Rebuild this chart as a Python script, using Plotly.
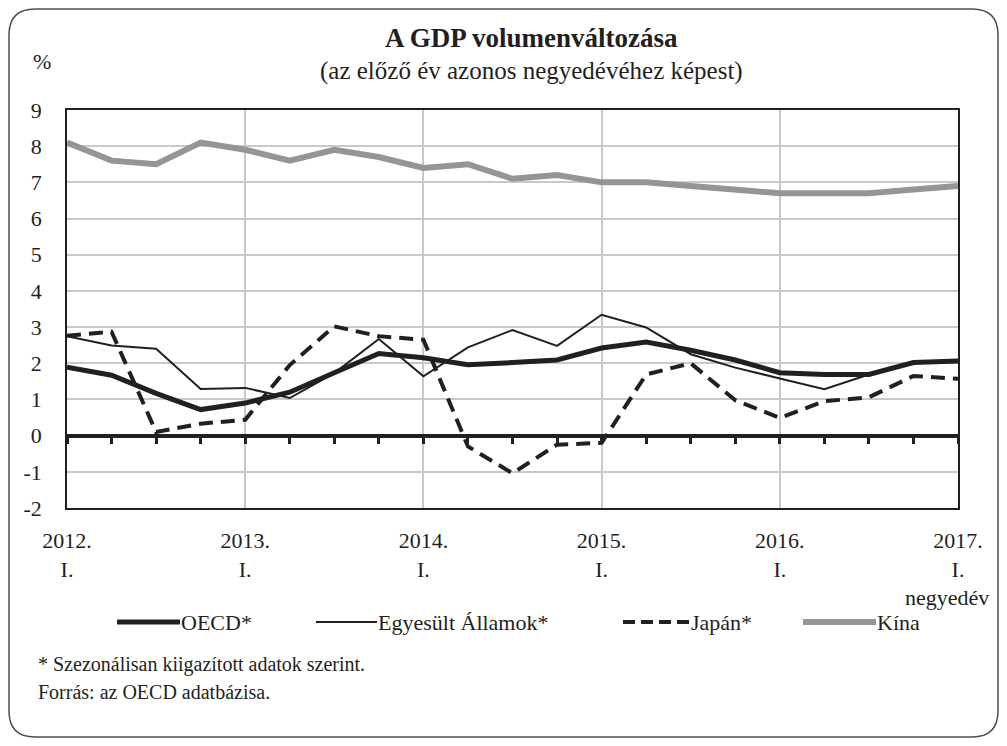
import plotly.graph_objects as go

# quarterly GDP volume change, % (same quarter of previous year)
quarters = [f"{2012 + i // 4}. {['I.', 'II.', 'III.', 'IV.'][i % 4]}" for i in range(21)]
year_ticks = ["2012.<br>I.", "2013.<br>I.", "2014.<br>I.", "2015.<br>I.", "2016.<br>I.", "2017.<br>I."]
y_ticks = list(range(-2, 10))
y_labels = [str(v) for v in y_ticks]

oecd = [1.89, 1.67, 1.17, 0.72, 0.90, 1.20, 1.74, 2.27, 2.15, 1.96, 2.02,
        2.09, 2.42, 2.59, 2.36, 2.09, 1.74, 1.69, 1.69, 2.02, 2.06]
usa = [2.75, 2.49, 2.40, 1.29, 1.32, 1.04, 1.73, 2.67, 1.64, 2.44, 2.92,
       2.48, 3.34, 2.99, 2.25, 1.88, 1.58, 1.28, 1.69, 2.00, 2.06]
japan = [2.76, 2.87, 0.10, 0.33, 0.44, 1.95, 3.02, 2.75, 2.65, -0.30, -1.04,
         -0.25, -0.20, 1.69, 2.00, 0.98, 0.49, 0.95, 1.06, 1.65, 1.57]
china = [8.1, 7.6, 7.5, 8.1, 7.9, 7.6, 7.9, 7.7, 7.4, 7.5, 7.1,
         7.2, 7.0, 7.0, 6.9, 6.8, 6.7, 6.7, 6.7, 6.8, 6.9]

FONT = "Liberation Serif, DejaVu Serif, Times New Roman, serif"
INK = "#231f20"
GREY = "#939598"
GRID = "#c8c9cb"

# page has an 8px body margin, so the figure sits at (8, 8)
OFF = 8
W, H = 1007 - 2 * OFF, 746 - 2 * OFF
# plot area in screen pixels
L, R, T, B = 67, 958, 110, 508


def px(x):
    return (x - L) / (R - L)


def py(y):
    return (B - y) / (B - T)


fig = go.Figure()
fig.add_trace(go.Scatter(x=quarters, y=china, mode="lines", name="Kína",
                         line=dict(color=GREY, width=6)))
fig.add_trace(go.Scatter(x=quarters, y=usa, mode="lines", name="Egyesült Államok*",
                         line=dict(color=INK, width=2)))
fig.add_trace(go.Scatter(x=quarters, y=oecd, mode="lines", name="OECD*",
                         line=dict(color=INK, width=5)))
fig.add_trace(go.Scatter(x=quarters, y=japan, mode="lines", name="Japán*",
                         line=dict(color=INK, width=4, dash="14px,8px")))
# empty trace that carries the zero-line axis
fig.add_trace(go.Scatter(x=quarters, y=[None] * len(quarters), xaxis="x2",
                         hoverinfo="skip", showlegend=False))

fig.update_layout(
    width=W, height=H, autosize=False,
    margin=dict(l=L - OFF, r=W - (R - OFF), t=T - OFF, b=H - (B - OFF), pad=0),
    paper_bgcolor="white", plot_bgcolor="white",
    showlegend=False,
    font=dict(family=FONT, size=22, color=INK),
    xaxis=dict(
        type="category", range=[0, 20],
        tickvals=quarters[::4], ticktext=year_ticks,
        ticks="outside", ticklen=12, tickcolor="rgba(0,0,0,0)",
        showgrid=True, gridcolor=GRID, gridwidth=1.5,
        showline=True, linecolor=INK, linewidth=1.5, mirror=True,
        tickfont=dict(size=22),
    ),
    yaxis=dict(
        range=[-2, 9], tickvals=y_ticks, ticktext=y_labels,
        ticks="outside", ticklen=19, tickcolor="rgba(0,0,0,0)",
        showgrid=True, gridcolor=GRID, gridwidth=1.5,
        showline=True, linecolor=INK, linewidth=1.5, mirror=True,
        zeroline=False, tickfont=dict(size=22),
    ),
    # zero line with small downward tick marks
    xaxis2=dict(
        type="category", overlaying="x", anchor="free", position=2 / 11, side="bottom",
        range=[0, 20], tickvals=quarters, showticklabels=False,
        ticks="outside", ticklen=6, tickwidth=3, tickcolor=INK,
        showline=True, linecolor=INK, linewidth=4, showgrid=False, zeroline=False,
    ),
)


def note(x, y, text, size=22, xanchor="center", bold=False):
    fig.add_annotation(x=px(x), y=py(y), xref="paper", yref="paper", showarrow=False,
                       xanchor=xanchor, yanchor="middle",
                       text=f"<b>{text}</b>" if bold else text, font=dict(size=size))


note(531, 38, "A GDP volumenváltozása", size=27, bold=True)
note(531, 71, "(az előző év azonos negyedévéhez képest)", size=25)
note(42, 62, "%")
note(991, 597, "negyedév", xanchor="right")
note(36, 664, "* Szezonálisan kiigazított adatok szerint.", size=20, xanchor="left")
note(36, 692, "Forrás: az OECD adatbázisa.", size=20, xanchor="left")

# custom legend with long line samples
legend_y = 622
legend_items = [
    ("OECD*", 117, 180, dict(color=INK, width=5)),
    ("Egyesült Államok*", 316, 377, dict(color=INK, width=2)),
    ("Japán*", 623, 690, dict(color=INK, width=4, dash="12px,6px")),
    ("Kína", 803, 876, dict(color=GREY, width=6)),
]
for label, x0, x1, style in legend_items:
    fig.add_shape(type="line", xref="paper", yref="paper",
                  x0=px(x0), x1=px(x1), y0=py(legend_y), y1=py(legend_y), line=style)
    note(x1 - 1, legend_y, label, xanchor="left")

# rounded outer frame
fl, fr, ft, fb, rad = 9, 998, 9, 737, 26
path = (f"M {px(fl + rad)},{py(ft)} L {px(fr - rad)},{py(ft)} "
        f"Q {px(fr)},{py(ft)} {px(fr)},{py(ft + rad)} L {px(fr)},{py(fb - rad)} "
        f"Q {px(fr)},{py(fb)} {px(fr - rad)},{py(fb)} L {px(fl + rad)},{py(fb)} "
        f"Q {px(fl)},{py(fb)} {px(fl)},{py(fb - rad)} L {px(fl)},{py(ft + rad)} "
        f"Q {px(fl)},{py(ft)} {px(fl + rad)},{py(ft)} Z")
fig.add_shape(type="path", xref="paper", yref="paper", path=path,
              line=dict(color="#4d4d4f", width=1.5), layer="below")

fig.write_html("out.html")
